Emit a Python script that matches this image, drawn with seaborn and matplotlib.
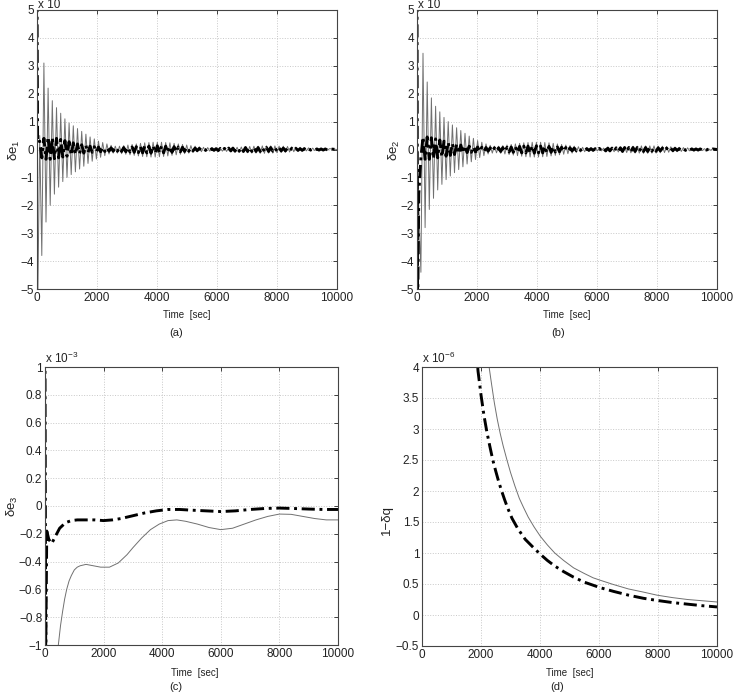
import numpy as np
import pandas as pd
import matplotlib
matplotlib.use("Agg")
import matplotlib.pyplot as plt
import seaborn as sns

# ---------------- data ----------------
PERIOD = 140.0          # sec between successive maxima of the oscillation
HALF = 70.0             # sec between a minimum and the next maximum
T_END = 10000.0

# panel (a): delta e1
a_first_min_t = 20.0
a_gray_min = [-6.0, -3.8, -2.6, -2.0, -1.6, -1.35, -1.15, -1.0, -0.9, -0.8,
              -0.7, -0.6, -0.5, -0.42, -0.34, -0.28, -0.22, -0.16, -0.13, -0.13,
              -0.15, -0.17, -0.19, -0.21, -0.23, -0.25, -0.26, -0.27, -0.27, -0.26,
              -0.25, -0.23, -0.21, -0.19, -0.17, -0.15, -0.13, -0.11, -0.09, -0.08,
              -0.07, -0.06, -0.05, -0.05, -0.06, -0.07, -0.08, -0.09, -0.1, -0.11,
              -0.12, -0.13, -0.13, -0.14, -0.14, -0.13, -0.13, -0.12, -0.11, -0.1,
              -0.09, -0.08, -0.07, -0.06, -0.05, -0.05, -0.04, -0.04, -0.03, -0.03]
a_gray_max = [0.5, 3.1, 2.2, 1.75, 1.5, 1.3, 1.1, 0.95, 0.85, 0.75,
              0.65, 0.55, 0.45, 0.38, 0.3, 0.25, 0.2, 0.15, 0.12, 0.12,
              0.14, 0.16, 0.18, 0.2, 0.22, 0.24, 0.25, 0.26, 0.26, 0.26,
              0.25, 0.24, 0.22, 0.2, 0.18, 0.16, 0.14, 0.12, 0.1, 0.08,
              0.07, 0.06, 0.05, 0.05, 0.05, 0.06, 0.07, 0.08, 0.09, 0.1,
              0.11, 0.12, 0.12, 0.13, 0.13, 0.13, 0.13, 0.12, 0.12, 0.11,
              0.1, 0.09, 0.08, 0.07, 0.06, 0.05, 0.04, 0.04, 0.03, 0.03]
a_dd_start = 6.0
a_dd_min = [0.25, -0.3, -0.35, -0.35, -0.33, -0.3, -0.27, -0.24, -0.21, -0.18,
            -0.15, -0.13, -0.11, -0.1, -0.09, -0.08, -0.07, -0.06, -0.06, -0.06,
            -0.07, -0.08, -0.09, -0.1, -0.11, -0.12, -0.12, -0.13, -0.13, -0.12,
            -0.12, -0.11, -0.1, -0.09, -0.08, -0.07, -0.06, -0.05, -0.04, -0.03,
            -0.03, -0.03, -0.03, -0.04, -0.04, -0.05, -0.05, -0.06, -0.06, -0.07,
            -0.07, -0.07, -0.07, -0.07, -0.07, -0.07, -0.06, -0.06, -0.05, -0.05,
            -0.04, -0.04, -0.03, -0.03, -0.03, -0.02, -0.02, -0.02, -0.02, -0.02]
a_dd_max = [0.3, 0.4, 0.45, 0.43, 0.4, 0.36, 0.32, 0.28, 0.24, 0.2,
            0.17, 0.14, 0.12, 0.1, 0.09, 0.08, 0.07, 0.06, 0.06, 0.06,
            0.07, 0.08, 0.09, 0.1, 0.11, 0.12, 0.12, 0.13, 0.13, 0.12,
            0.12, 0.11, 0.1, 0.09, 0.08, 0.07, 0.06, 0.05, 0.04, 0.03,
            0.03, 0.03, 0.03, 0.04, 0.04, 0.05, 0.05, 0.06, 0.06, 0.07,
            0.07, 0.07, 0.07, 0.07, 0.07, 0.07, 0.06, 0.06, 0.05, 0.05,
            0.04, 0.04, 0.03, 0.03, 0.03, 0.02, 0.02, 0.02, 0.02, 0.02]

# panel (b): delta e2
b_first_min_t = 130.0
b_gray_min = [-4.4, -2.8, -2.15, -1.75, -1.45, -1.25, -1.08, -0.95, -0.83, -0.72,
              -0.62, -0.52, -0.44, -0.36, -0.29, -0.22, -0.16, -0.13, -0.12, -0.14,
              -0.16, -0.18, -0.2, -0.22, -0.24, -0.26, -0.27, -0.27, -0.27, -0.26,
              -0.25, -0.23, -0.21, -0.19, -0.17, -0.15, -0.13, -0.11, -0.09, -0.08,
              -0.07, -0.06, -0.05, -0.05, -0.06, -0.07, -0.08, -0.09, -0.1, -0.11,
              -0.12, -0.13, -0.13, -0.14, -0.14, -0.13, -0.13, -0.12, -0.11, -0.1,
              -0.09, -0.08, -0.07, -0.06, -0.05, -0.05, -0.04, -0.04, -0.03, -0.03]
b_gray_max = [3.45, 2.42, 1.85, 1.55, 1.35, 1.15, 1.0, 0.88, 0.78, 0.68,
              0.58, 0.48, 0.4, 0.32, 0.26, 0.2, 0.15, 0.12, 0.12, 0.14,
              0.16, 0.18, 0.2, 0.22, 0.24, 0.25, 0.26, 0.26, 0.26, 0.25,
              0.24, 0.22, 0.2, 0.18, 0.16, 0.14, 0.12, 0.1, 0.08, 0.07,
              0.06, 0.05, 0.05, 0.05, 0.06, 0.07, 0.08, 0.09, 0.1, 0.11,
              0.12, 0.12, 0.13, 0.13, 0.13, 0.13, 0.12, 0.12, 0.11, 0.1,
              0.09, 0.08, 0.07, 0.06, 0.05, 0.04, 0.04, 0.03, 0.03, 0.03]
b_dd_lead_t = [0.0, 20.0, 60.0]
b_dd_lead_v = [6.0, -6.0, -1.6]
b_dd_min = [-0.3, -0.35, -0.35, -0.33, -0.3, -0.27, -0.24, -0.21, -0.18, -0.15,
            -0.13, -0.11, -0.1, -0.09, -0.08, -0.07, -0.06, -0.06, -0.06, -0.07,
            -0.08, -0.09, -0.1, -0.11, -0.12, -0.12, -0.13, -0.13, -0.12, -0.12,
            -0.11, -0.1, -0.09, -0.08, -0.07, -0.06, -0.05, -0.04, -0.03, -0.03,
            -0.03, -0.03, -0.04, -0.04, -0.05, -0.05, -0.06, -0.06, -0.07, -0.07,
            -0.07, -0.07, -0.07, -0.07, -0.07, -0.06, -0.06, -0.05, -0.05, -0.04,
            -0.04, -0.03, -0.03, -0.03, -0.02, -0.02, -0.02, -0.02, -0.02, -0.02]
b_dd_max = [0.45, 0.45, 0.42, 0.38, 0.34, 0.3, 0.26, 0.22, 0.19, 0.16,
            0.14, 0.12, 0.1, 0.09, 0.08, 0.07, 0.06, 0.06, 0.06, 0.07,
            0.08, 0.09, 0.1, 0.11, 0.12, 0.12, 0.13, 0.13, 0.12, 0.12,
            0.11, 0.1, 0.09, 0.08, 0.07, 0.06, 0.05, 0.04, 0.03, 0.03,
            0.03, 0.03, 0.04, 0.04, 0.05, 0.05, 0.06, 0.06, 0.07, 0.07,
            0.07, 0.07, 0.07, 0.07, 0.07, 0.06, 0.06, 0.05, 0.05, 0.04,
            0.04, 0.03, 0.03, 0.03, 0.02, 0.02, 0.02, 0.02, 0.02, 0.02]

# panel (c): delta e3 (x 10^-3)
c_gray_t = [0, 200, 455, 530, 600, 670, 740, 820, 900, 1000, 1100, 1200, 1400,
            1650, 1900, 2200, 2500, 2800, 3000, 3300, 3600, 3900, 4200, 4500, 4800,
            5200, 5600, 6000, 6400, 6800, 7200, 7600, 8000, 8400, 8800, 9200, 9600,
            10000]
c_gray_v = [-4.0, -2.2, -1.0, -0.86, -0.76, -0.67, -0.6, -0.54, -0.5, -0.46, -0.44,
            -0.43, -0.42, -0.43, -0.44, -0.44, -0.41, -0.35, -0.3, -0.23, -0.17,
            -0.13, -0.105, -0.1, -0.11, -0.13, -0.155, -0.17, -0.16, -0.13, -0.1,
            -0.075, -0.058, -0.06, -0.075, -0.09, -0.1, -0.1]
c_dd_t = [0, 25, 60, 130, 230, 350, 500, 700, 900, 1100, 1400, 1700, 2000, 2300,
          2600, 3000, 3400, 3800, 4200, 4600, 5000, 5500, 6000, 6500, 7000, 7500,
          8000, 8500, 9000, 9500, 10000]
c_dd_v = [1.1, -1.1, -0.18, -0.24, -0.27, -0.22, -0.16, -0.12, -0.105, -0.1, -0.1,
          -0.1, -0.105, -0.1, -0.09, -0.07, -0.05, -0.035, -0.025, -0.025, -0.03,
          -0.035, -0.04, -0.035, -0.025, -0.018, -0.015, -0.018, -0.022, -0.025,
          -0.025]

# panel (d): 1 - delta q (x 10^-6)
d_gray_t = [2150, 2260, 2350, 2450, 2550, 2650, 2750, 2880, 3000, 3150, 3300, 3446,
            3600, 3800, 4011, 4250, 4500, 4800, 5140, 5500, 5800, 6045, 6500, 7000,
            7500, 7966, 8500, 9000, 9500, 10000]
d_gray_v = [4.5, 4.05, 3.75, 3.43, 3.16, 2.93, 2.73, 2.5, 2.3, 2.08, 1.88, 1.73,
            1.58, 1.42, 1.27, 1.13, 1.0, 0.88, 0.76, 0.67, 0.6, 0.56, 0.49, 0.42,
            0.37, 0.32, 0.28, 0.25, 0.23, 0.21]
d_dd_t = [1750, 1900, 2000, 2100, 2200, 2300, 2400, 2500, 2600, 2700, 2800, 2900,
          3050, 3250, 3500, 3750, 4011, 4250, 4500, 4800, 5140, 5500, 6045, 6500,
          7000, 7500, 7966, 8500, 9000, 9500, 10000]
d_dd_v = [4.8, 3.93, 3.55, 3.22, 2.95, 2.72, 2.5, 2.32, 2.15, 2.0, 1.86, 1.73,
          1.56, 1.39, 1.22, 1.1, 0.98, 0.88, 0.79, 0.7, 0.61, 0.53, 0.44, 0.38,
          0.32, 0.27, 0.235, 0.2, 0.175, 0.15, 0.13]

x_ticks = [0, 2000, 4000, 6000, 8000, 10000]
ab_yticks = [-5, -4, -3, -2, -1, 0, 1, 2, 3, 4, 5]
c_yticks = [-1, -0.8, -0.6, -0.4, -0.2, 0, 0.2, 0.4, 0.6, 0.8, 1]
d_yticks = [-0.5, 0, 0.5, 1, 1.5, 2, 2.5, 3, 3.5, 4]


def zigzag(first_min_t, mins, maxs):
    """Interleave read minima and maxima at their read times."""
    n = len(mins)
    t_min = first_min_t + PERIOD * np.arange(n)
    t = np.empty(2 * n)
    v = np.empty(2 * n)
    t[0::2] = t_min
    t[1::2] = t_min + HALF
    v[0::2] = mins
    v[1::2] = maxs
    return t, v


# ---------------- figure ----------------
sns.set_theme(style="white")
plt.rcParams["font.family"] = ["Liberation Sans", "DejaVu Sans"]
plt.rcParams["mathtext.fontset"] = "custom"
plt.rcParams["mathtext.rm"] = "Liberation Sans"
plt.rcParams["mathtext.it"] = "Liberation Sans:italic"

W, H = 748, 694
fig = plt.figure(figsize=(W / 100, H / 100), dpi=100)
fig.patch.set_facecolor("white")


def rect(l, r, t, b):
    return [l / W, 1 - b / H, (r - l) / W, (b - t) / H]


def px(x, y):
    return x / W, 1 - y / H


GRAY = "#707070"


def style_axes(ax, ylim, yticks):
    ax.set_xlim(0, T_END)
    ax.set_ylim(*ylim)
    ax.set_xticks(x_ticks)
    ax.set_xticklabels([f"{v:g}" for v in x_ticks])
    ax.set_yticks(yticks)
    ax.set_yticklabels([f"{v:g}".replace("-", "\u2212") for v in yticks])
    ax.tick_params(direction="in", length=3, width=0.6, labelsize=8.5,
                   top=True, right=True, colors="#222222", pad=2)
    ax.grid(True, linestyle=":", color="#c8c8c8", lw=0.7)
    for s in ax.spines.values():
        s.set_color("#444444")
        s.set_linewidth(0.8)
    ax.set_xlabel("")
    ax.set_ylabel("")


def draw(ax, t, v, dd=False):
    df = pd.DataFrame({"t": t, "v": v})
    if dd:
        sns.lineplot(data=df, x="t", y="v", ax=ax, estimator=None, sort=False,
                     color="black", lw=2.1)
        ax.lines[-1].set_dashes([4.5, 1.6, 1.0, 1.6])
    else:
        sns.lineplot(data=df, x="t", y="v", ax=ax, estimator=None, sort=False,
                     color=GRAY, lw=0.7)


# (a)
ax_a = fig.add_axes(rect(37, 337, 10, 289))
t, v = zigzag(a_first_min_t, a_gray_min, a_gray_max)
draw(ax_a, np.r_[0.0, t, T_END], np.r_[0.0, v, 0.0])
t, v = zigzag(a_first_min_t, a_dd_min, a_dd_max)
draw(ax_a, np.r_[0.0, t, T_END], np.r_[a_dd_start, v, 0.0], dd=True)
style_axes(ax_a, (-5, 5), ab_yticks)

# (b)
ax_b = fig.add_axes(rect(417, 717, 10, 289))
t, v = zigzag(b_first_min_t, b_gray_min, b_gray_max)
draw(ax_b, np.r_[0.0, t, T_END], np.r_[0.0, v, 0.0])
t, v = zigzag(b_first_min_t, b_dd_min, b_dd_max)
draw(ax_b, np.r_[b_dd_lead_t, t, T_END], np.r_[b_dd_lead_v, v, 0.0], dd=True)
style_axes(ax_b, (-5, 5), ab_yticks)

# (c)
ax_c = fig.add_axes(rect(45, 338, 367, 645))
draw(ax_c, c_gray_t, c_gray_v)
draw(ax_c, c_dd_t, c_dd_v, dd=True)
style_axes(ax_c, (-1, 1), c_yticks)

# (d)
ax_d = fig.add_axes(rect(422, 717, 367, 646))
draw(ax_d, d_gray_t, d_gray_v)
draw(ax_d, d_dd_t, d_dd_v, dd=True)
style_axes(ax_d, (-0.5, 4), d_yticks)

# texts
tc = "#222222"
fig.text(*px(38, 8.5), "x 10", fontsize=8.5, color=tc, va="baseline")
fig.text(*px(418, 8.5), "x 10", fontsize=8.5, color=tc, va="baseline")
fig.text(*px(45, 363), "x 10$^{-3}$", fontsize=8.5, color=tc, va="baseline")
fig.text(*px(422, 363), "x 10$^{-6}$", fontsize=8.5, color=tc, va="baseline")

for x, y in [(187, 315), (567, 315), (195, 673), (570, 673)]:
    fig.text(*px(x, y), "Time  [sec]", fontsize=7, color=tc,
             ha="center", va="center")
for x, y, s in [(176, 333, "(a)"), (558, 333, "(b)"), (176, 687, "(c)"),
                (557, 687, "(d)")]:
    fig.text(*px(x, y), s, fontsize=8, color=tc, ha="center", va="center")

fig.text(*px(14, 150), "\u03b4e$_1$", fontsize=9.5, color=tc, rotation=90,
         ha="center", va="center")
fig.text(*px(394, 150), "\u03b4e$_2$", fontsize=9.5, color=tc, rotation=90,
         ha="center", va="center")
fig.text(*px(12, 506), "\u03b4e$_3$", fontsize=9.5, color=tc, rotation=90,
         ha="center", va="center")
fig.text(*px(387, 520), "1\u2212\u03b4q", fontsize=9.5, color=tc, rotation=90,
         ha="center", va="center")

fig.savefig("out.png", dpi=100, facecolor="white")
